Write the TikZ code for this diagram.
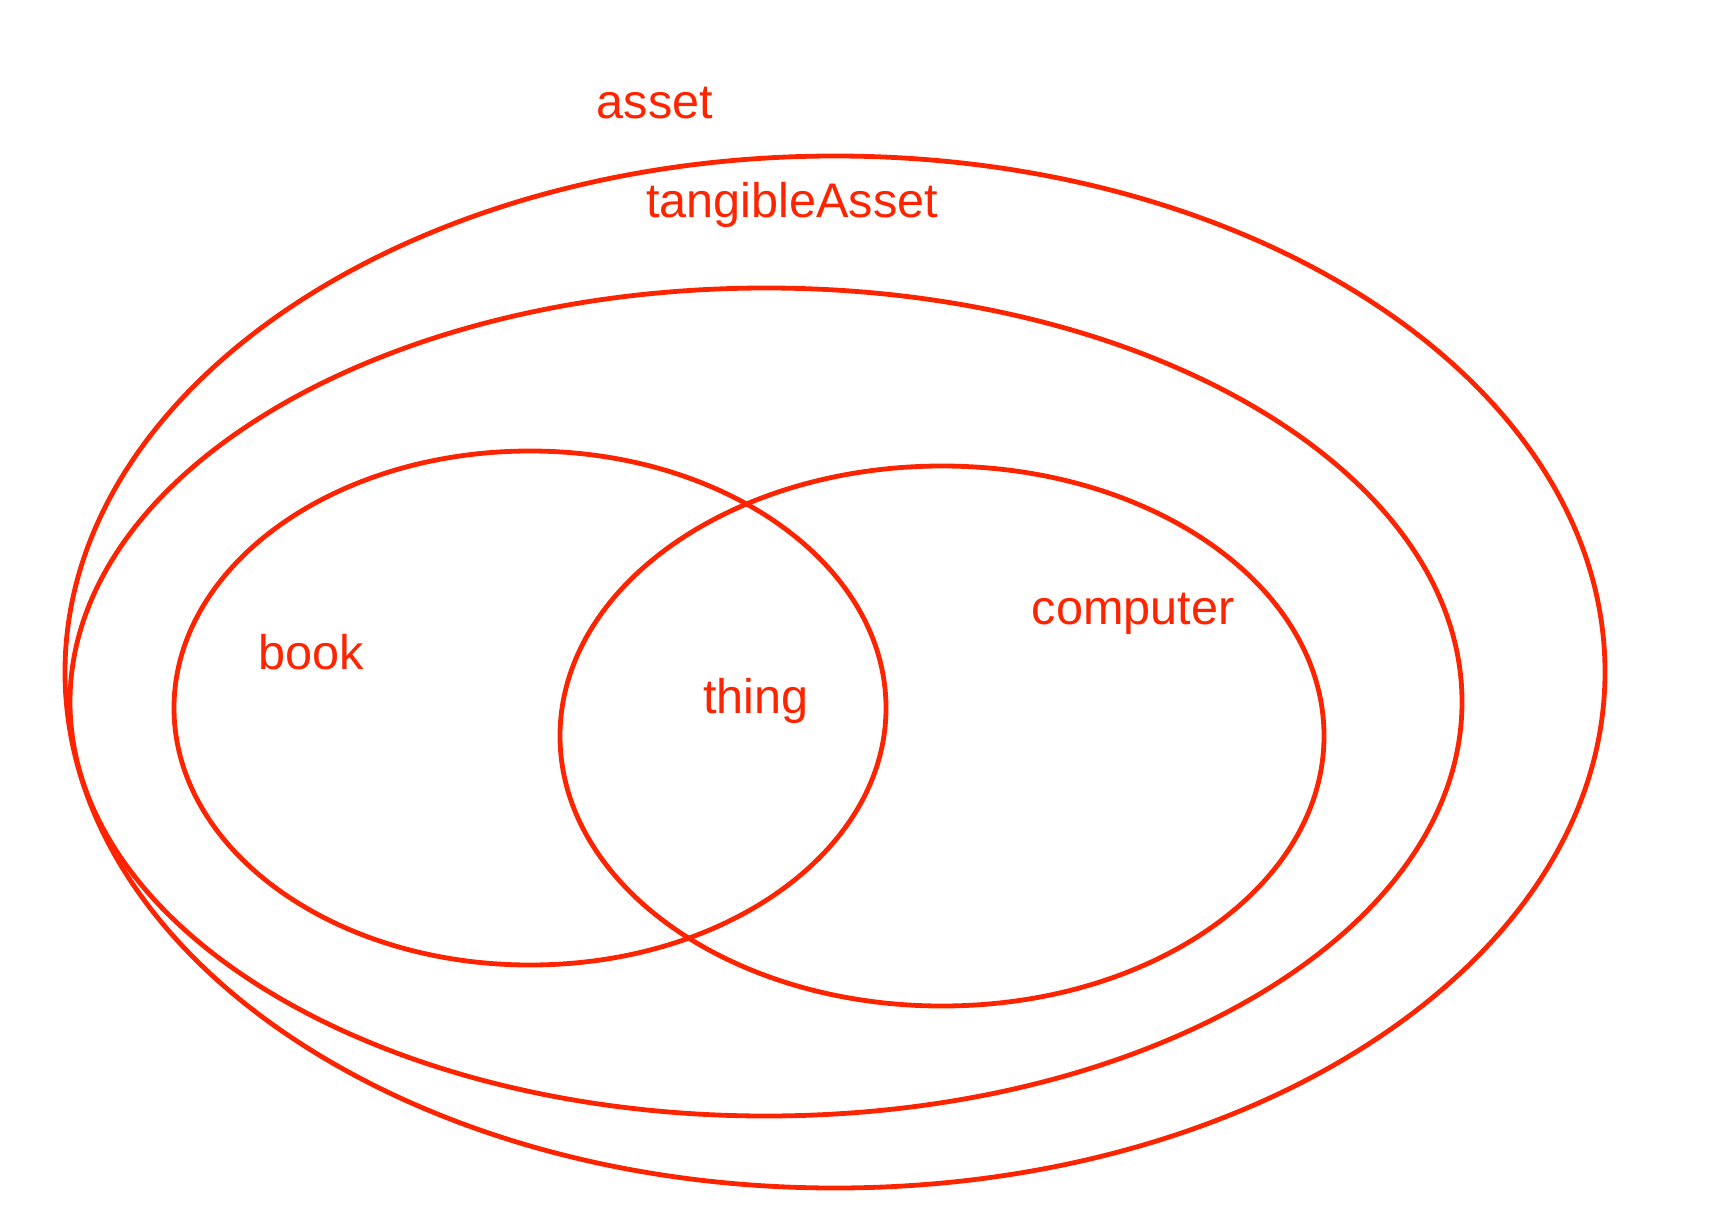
\documentclass[tikz,border=0pt]{standalone}
\usepackage{fontspec}
\setmainfont{Liberation Sans}
\definecolor{vred}{RGB}{255,36,0}
\begin{document}
\begin{tikzpicture}[x=0.5pt,y=-0.5pt,
  setline/.style={draw=vred,line width=2.4pt},
  setlabel/.style={text=vred,font=\fontsize{24.3pt}{29pt}\selectfont,anchor=base,inner sep=0pt}]
\useasboundingbox (0,0) rectangle (1722,1214);
% sets
\draw[setline] (835,672) ellipse [x radius=770,y radius=516];
\draw[setline] (766,702) ellipse [x radius=696,y radius=414];
\draw[setline] (530,708) ellipse [x radius=356,y radius=257];
\draw[setline] (942,736) ellipse [x radius=382,y radius=270];
% labels
\node[setlabel] (asset) at (655,119) {asset};
\node[setlabel] (tangible) at (792,218) {tangibleAsset};
\node[setlabel] (book) at (311,669) {book};
\node[setlabel] (thing) at (756,713) {thing};
\node[setlabel] (computer) at (1133,624) {computer};
\end{tikzpicture}
\end{document}
